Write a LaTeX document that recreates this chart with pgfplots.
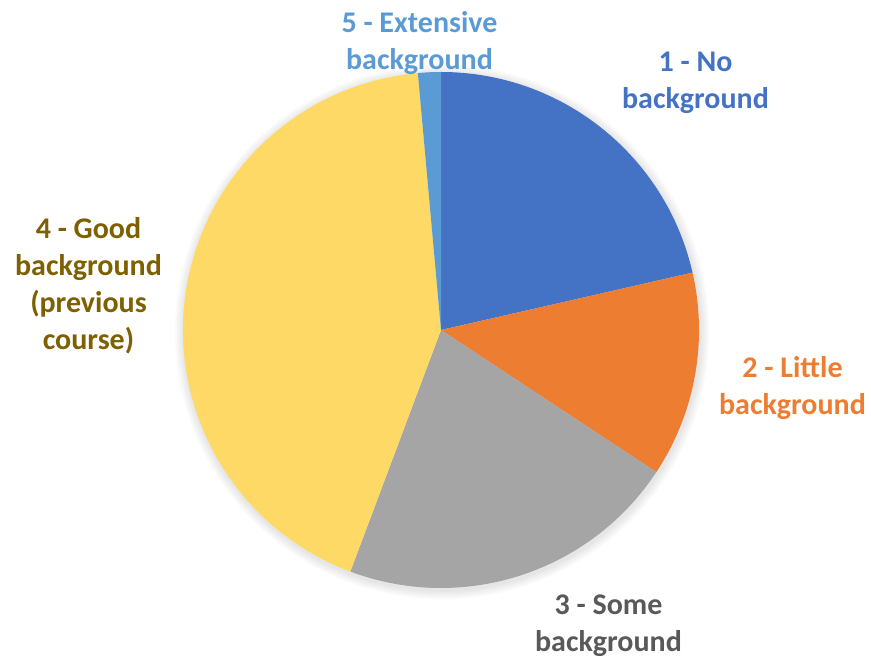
\documentclass[border=0pt]{standalone}
\usepackage{pgfplots}
\usepackage{pgfplotstable}
\pgfplotsset{compat=1.18}
\usepackage{fontspec}
\setmainfont{Carlito}
\definecolor{c1}{HTML}{4472C4}
\definecolor{c2}{HTML}{ED7D31}
\definecolor{c3}{HTML}{A5A5A5}
\definecolor{c4}{HTML}{FFD966}
\definecolor{c5}{HTML}{5B9BD5}
\definecolor{t3}{HTML}{595959}
\definecolor{t4}{HTML}{7F6000}
\pgfplotstableread{
label value
1 15
2 9
3 15
4 30
5 1
}\piedata
\begin{document}%
\def\total{0}%
\pgfplotsforeachungrouped \i in {0,...,4}{%
  \pgfplotstablegetelem{\i}{value}\of\piedata
  \pgfmathsetmacro\total{\total+\pgfplotsretval}%
}%
\def\cum{0}%
\pgfplotsforeachungrouped \i in {0,...,4}{%
  \pgfplotstablegetelem{\i}{value}\of\piedata
  \pgfmathsetmacro\sa{90-360*(\cum/\total)}%
  \pgfmathsetmacro\cum{\cum+\pgfplotsretval}%
  \pgfmathsetmacro\ea{90-360*(\cum/\total)}%
  \expandafter\xdef\csname sa\i\endcsname{\sa}%
  \expandafter\xdef\csname ea\i\endcsname{\ea}%
}%
\newcommand\slice[2]{%
  \edef\tmpslice{\noexpand\fill[#2] (axis cs:441,328) -- ++(\csname sa#1\endcsname:129pt) arc[start angle=\csname sa#1\endcsname, end angle=\csname ea#1\endcsname, radius=129pt] -- cycle;}%
  \tmpslice}%
\begin{tikzpicture}
\begin{axis}[
  hide axis, scale only axis, clip=false,
  x=0.5pt, y=0.5pt,
  xmin=0, xmax=871, ymin=0, ymax=658,
]
\path (axis cs:0,0) rectangle (axis cs:871,658);
\pgfplotsinvokeforeach{1,...,5}{
  \fill[black, opacity=0.02] (axis cs:442,326) circle[radius=129pt+0.9pt*#1];
}
\slice{0}{c1}
\slice{1}{c2}
\slice{2}{c3}
\slice{3}{c4}
\slice{4}{c5}
\tikzset{lbl/.style={align=center, font=\fontsize{15}{18.5}\selectfont\bfseries, inner sep=0pt}}
\node[lbl, text=c5] at (axis cs:419.5,615) {5 - Extensive\\background};
\node[lbl, text=c1] at (axis cs:695.5,575.5) {1 - No\\background};
\node[lbl, text=c2] at (axis cs:792.5,269.5) {2 - Little\\background};
\node[lbl, text=t3] at (axis cs:608.5,32.5) {3 - Some\\background};
\node[lbl, text=t4] at (axis cs:88.5,372) {4 - Good\\background\\(previous\\course)};
\end{axis}
\end{tikzpicture}%
\end{document}
